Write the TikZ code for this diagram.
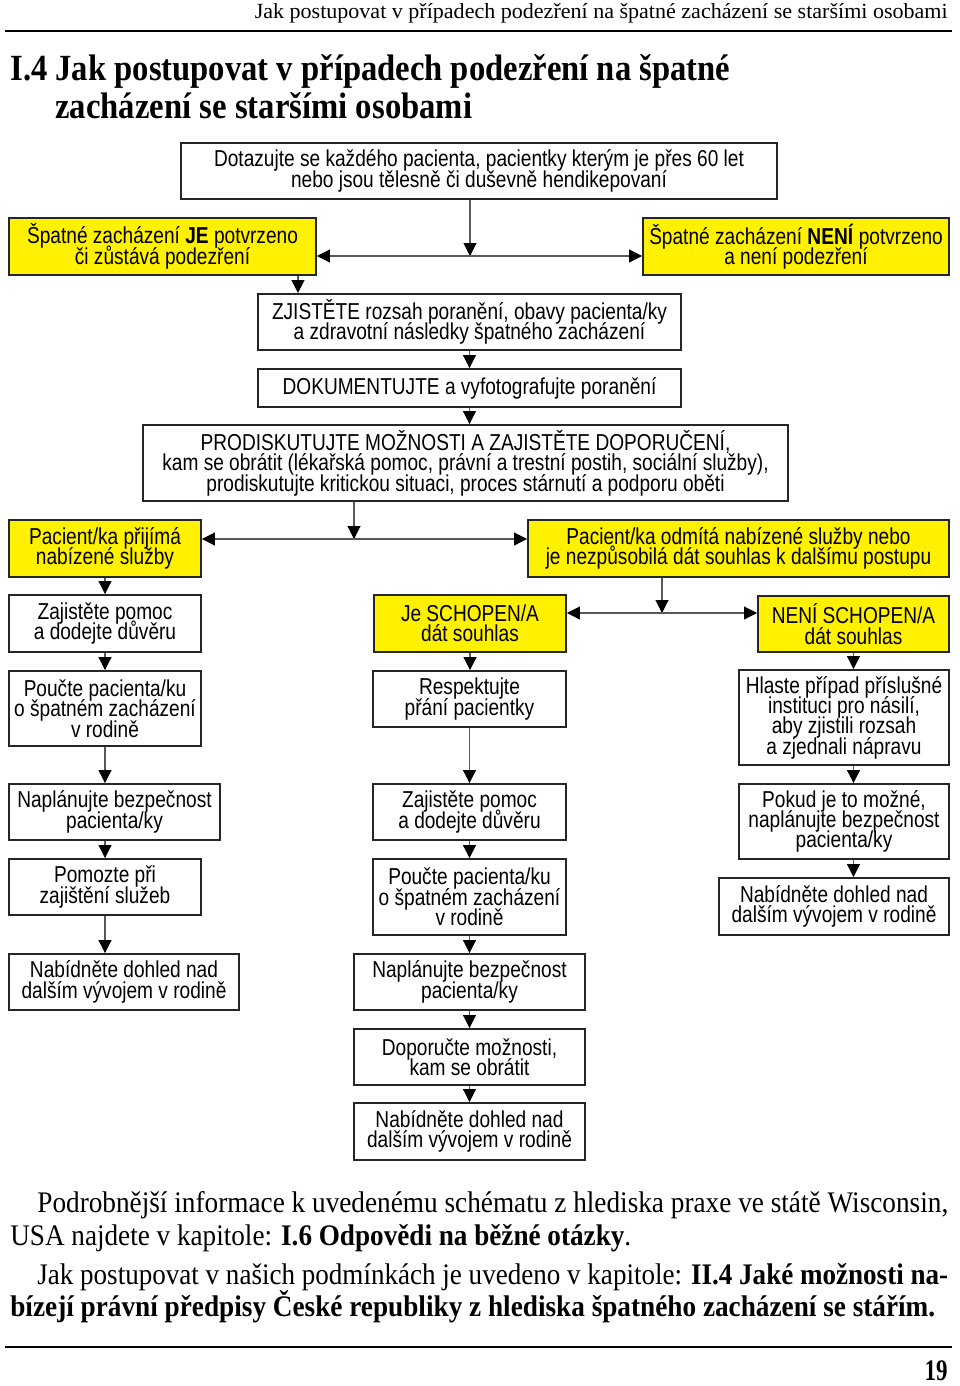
\documentclass[tikz,border=0pt]{standalone}
\usepackage{fontspec}
\usepackage{graphicx}
\setmainfont{Liberation Serif}
\newfontfamily\boxfont{Liberation Sans}[FakeStretch=0.83]
\newcommand\chartfont{\boxfont\fontsize{13.1}{11.6}\selectfont\lineskiplimit=-20pt\relax}
\usetikzlibrary{arrows.meta}
\definecolor{chartyellow}{RGB}{255,241,0}
\tikzset{
  box/.style={draw=black!85, line width=1.1pt, fill=white, align=center, inner sep=0pt, font=\chartfont},
  ybox/.style={box, fill=chartyellow},
  sz/.style 2 args={minimum width=#1*0.02cm, minimum height=#2*0.02cm},
  link/.style={draw=black!65, line width=0.6pt},
  arr/.style={link, -{Triangle[width=0.26cm, length=0.26cm, color=black]}},
  arrs/.style={link, {Triangle[width=0.26cm, length=0.26cm, color=black]}-{Triangle[width=0.26cm, length=0.26cm, color=black]}},
  line/.style={anchor=base west, inner sep=0pt},
  rule/.style={line width=1.6pt}
}
\begin{document}
\begin{tikzpicture}[x=0.02cm, y=-0.02cm]
    \useasboundingbox (0,0) rectangle (960,1386);

    % Page head and title
    \node[anchor=base east, inner sep=0pt] (runhead) at (948,18) {\resizebox{13.86cm}{\height}{\fontsize{12.3}{12}\selectfont Jak postupovat v případech podezření na špatné zacházení se staršími osobami}};
    \draw[rule] (5,31) -- (952,31);
    \node[line] (title1) at (10,80) {\resizebox{14.4cm}{\height}{\fontsize{21}{22}\selectfont\bfseries I.4 Jak postupovat v případech podezření na špatné}};
    \node[line] (title2) at (55,118) {\resizebox{8.34cm}{\height}{\fontsize{21}{22}\selectfont\bfseries zacházení se staršími osobami}};

    % Screening
    \node[box, sz={596}{56}] (ask) at (479,171) {Dotazujte se každého pacienta, pacientky kterým je přes 60 let\\nebo jsou tělesně či duševně hendikepovaní};
    \node[ybox, sz={307}{57}] (abuse) at (162.5,246.5) {Špatné zacházení \textbf{JE} potvrzeno\\či zůstává podezření};
    \node[ybox, sz={306}{57}] (noabuse) at (796,246.5) {Špatné zacházení \textbf{NENÍ} potvrzeno\\a není podezření};
    \node[box, sz={423}{56}] (assess) at (469.5,322) {ZJISTĚTE rozsah poranění, obavy pacienta/ky\\a zdravotní následky špatného zacházení};
    \node[box, sz={423}{38}] (docu) at (469.5,388) {DOKUMENTUJTE a vyfotografujte poranění};
    \node[box, sz={645}{76}] (discuss) at (465.5,463) {PRODISKUTUJTE MOŽNOSTI A ZAJISTĚTE DOPORUČENÍ,\\kam se obrátit (lékařská pomoc, právní a trestní postih, sociální služby),\\prodiskutujte kritickou situaci, proces stárnutí a podporu oběti};
    \node[ybox, sz={192}{57}] (accept) at (105,548.5) {Pacient/ka přijímá\\nabízené služby};
    \node[ybox, sz={421}{57}] (refuse) at (738.5,548.5) {Pacient/ka odmítá nabízené služby nebo\\je nezpůsobilá dát souhlas k dalšímu postupu};

    % Patient accepts
    \node[box, sz={192}{57}] (l1) at (105,623.5) {Zajistěte pomoc\\a dodejte důvěru};
    \node[box, sz={192}{75}] (l2) at (105,708.5) {Poučte pacienta/ku\\o špatném zacházení\\v rodině};
    \node[box, sz={211}{56}] (l3) at (114.5,812) {Naplánujte bezpečnost\\pacienta/ky};
    \node[box, sz={192}{56}] (l4) at (105,887) {Pomozte při\\zajištění služeb};
    \node[box, sz={230}{56}] (l5) at (124,982) {Nabídněte dohled nad\\dalším vývojem v rodině};

    % Patient refuses, able to consent
    \node[ybox, sz={192}{57}] (able) at (470,623.5) {Je SCHOPEN/A\\dát souhlas};
    \node[box, sz={193}{56}] (m1) at (469.5,699) {Respektujte\\přání pacientky};
    \node[box, sz={193}{56}] (m2) at (469.5,812) {Zajistěte pomoc\\a dodejte důvěru};
    \node[box, sz={193}{76}] (m3) at (469.5,897) {Poučte pacienta/ku\\o špatném zacházení\\v rodině};
    \node[box, sz={231}{56}] (m4) at (469.5,982) {Naplánujte bezpečnost\\pacienta/ky};
    \node[box, sz={231}{56}] (m5) at (469.5,1057) {Doporučte možnosti,\\kam se obrátit};
    \node[box, sz={231}{57}] (m6) at (469.5,1131.5) {Nabídněte dohled nad\\dalším vývojem v rodině};

    % Patient refuses, not able to consent
    \node[ybox, sz={191}{56}] (unable) at (853.5,624) {NENÍ SCHOPEN/A\\dát souhlas};
    \node[box, sz={210}{95}] (r1) at (844,717.5) {Hlaste případ příslušné\\instituci pro násilí,\\aby zjistili rozsah\\a zjednali nápravu};
    \node[box, sz={210}{75}] (r2) at (844,821.5) {Pokud je to možné,\\naplánujte bezpečnost\\pacienta/ky};
    \node[box, sz={230}{57}] (r3) at (834,906.5) {Nabídněte dohled nad\\dalším vývojem v rodině};

    % Branch points
    \coordinate (split1) at (470,256);
    \coordinate (split2) at (354,539);
    \coordinate (split3) at (662,613);
    \draw[arr] (split1 |- ask.south) -- (split1);
    \draw[arrs] (abuse.east |- split1) -- (noabuse.west |- split1);
    \draw[arr] (split2 |- discuss.south) -- (split2);
    \draw[arrs] (accept.east |- split2) -- (refuse.west |- split2);
    \draw[arr] (split3 |- refuse.south) -- (split3);
    \draw[arrs] (able.east |- split3) -- (unable.west |- split3);

    % Arrows down the columns
    \draw[arr] ([xshift=-0.38cm]abuse.south east) -- ([xshift=-0.38cm]abuse.south east |- assess.north);
    \foreach \a/\b in {assess/docu, docu/discuss, accept/l1, l1/l2, l2/l3, l4/l5, able/m1, m1/m2, m2/m3, m3/m4, m4/m5, m5/m6}{
        \draw[arr] (\a.south) -- (\a.south |- \b.north);
    }
    \draw[arr] (l4.north |- l3.south) -- (l4.north);
    \foreach \a/\b in {unable/r1, r1/r2, r2/r3}{
        \draw[arr] (\a.south -| unable) -- (\b.north -| unable);
    }

    % Text below the chart
    \node[line] (par1) at (37,1212) {\resizebox{18.22cm}{\height}{\fontsize{17}{18}\selectfont Podrobnější informace k uvedenému schématu z hlediska praxe ve státě Wisconsin,}};
    \node[line] (par2) at (10,1245) {\resizebox{12.42cm}{\height}{\fontsize{17}{18}\selectfont USA najdete v kapitole: \textbf{I.6 Odpovědi na běžné otázky}.}};
    \node[line] (par3) at (37,1284) {\resizebox{18.22cm}{\height}{\fontsize{17}{18}\selectfont Jak postupovat v našich podmínkách je uvedeno v kapitole: \textbf{II.4 Jaké možnosti na-}}};
    \node[line] (par4) at (10,1316) {\resizebox{18.5cm}{\height}{\fontsize{17}{18}\selectfont\bfseries bízejí právní předpisy České republiky z hlediska špatného zacházení se stářím.}};
    \draw[rule] (5,1347) -- (952,1347);
    \node[anchor=base east, inner sep=0pt] (folio) at (948,1380) {\resizebox{0.46cm}{\height}{\fontsize{17}{18}\selectfont\bfseries 19}};
\end{tikzpicture}
\end{document}
